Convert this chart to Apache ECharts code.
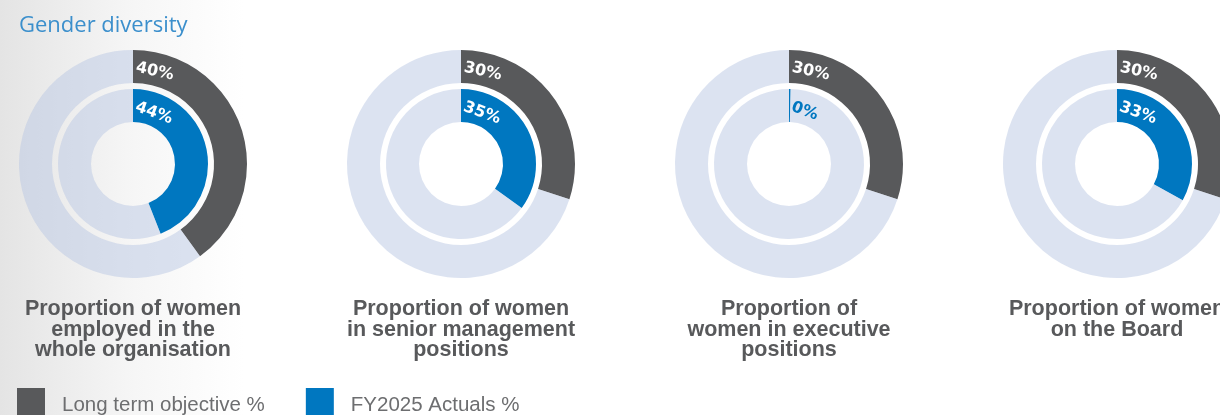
<!DOCTYPE html>
<html>
<head>
<meta charset="utf-8">
<script src="https://cdn.jsdelivr.net/npm/echarts@6/dist/echarts.min.js"></script>
<style>
  html, body { margin: 0; padding: 0; width: 1220px; height: 415px; overflow: hidden; background: #fff; }
  #chart { width: 1220px; height: 415px; }
</style>
</head>
<body>
<div id="chart"></div>
<script>
// ---- data ----
const chartTitle = 'Gender diversity';
const categories = [
  'Proportion of women\nemployed in the\nwhole organisation',
  'Proportion of women\nin senior management\npositions',
  'Proportion of\nwomen in executive\npositions',
  'Proportion of women\non the Board'
];
const seriesNames = ['Long term objective %', 'FY2025 Actuals %'];
const objective = [40, 30, 30, 30];
const actual = [44, 35, 0, 33];

// ---- layout / style ----
const DARK = '#58595b';
const BLUE = '#0077c0';
const LIGHT = 'rgba(185,199,227,0.5)';
const ringColors = [DARK, BLUE];
const centersX = [133, 461, 789, 1117];
const centerY = 164;
const outerR = [81, 114];
const innerR = [42, 75];
const labelFont = { fontFamily: 'DejaVu Sans', fontWeight: 'bold', fontSize: 16 };

function ringSeries(i, ring) {
  const isOuter = ring === 0;
  const values = isOuter ? objective : actual;
  const v = values[i];
  const radius = isOuter ? outerR : innerR;
  const midR = (radius[0] + radius[1]) / 2;
  const rot = isOuter ? -12 : -20;
  const cx = centersX[i];
  return {
    type: 'pie',
    id: 'ring-' + i + '-' + ring,
    center: [cx, centerY],
    radius: radius,
    startAngle: 90,
    clockwise: true,
    minAngle: isOuter ? 0 : 1.2,
    avoidLabelOverlap: false,
    silent: true,
    emphasis: { disabled: true, scale: false },
    labelLine: { show: false },
    itemStyle: { borderWidth: 0 },
    label: { show: false },
    labelLayout: function () {
      return { x: cx + 3, y: centerY - midR + 1, rotate: rot, align: 'left', verticalAlign: 'middle' };
    },
    data: [
      {
        name: seriesNames[ring],
        value: v,
        itemStyle: { color: ringColors[ring] },
        label: Object.assign({
          show: true,
          position: 'inside',
          formatter: v + '%',
          color: v === 0 ? BLUE : '#ffffff'
        }, labelFont)
      },
      {
        name: 'remainder',
        value: 100 - v,
        itemStyle: { color: LIGHT },
        label: { show: false }
      }
    ]
  };
}

const series = [];
for (let i = 0; i < categories.length; i++) {
  series.push(ringSeries(i, 0));
  series.push(ringSeries(i, 1));
}

const titles = [{
  text: chartTitle,
  left: 19,
  top: 15,
  padding: 0,
  textStyle: { fontFamily: 'Open Sans', fontWeight: 'normal', fontSize: 22, color: '#3b8fcc' }
}];
categories.forEach(function (c, i) {
  titles.push({
    text: c,
    left: centersX[i],
    top: 299,
    padding: 0,
    textAlign: 'center',
    textStyle: {
      fontFamily: 'Liberation Sans', fontWeight: 'bold', fontSize: 21.5,
      lineHeight: 20.5, color: DARK
    }
  });
});

const chart = echarts.init(document.getElementById('chart'), null, { renderer: 'canvas' });
chart.setOption({
  animation: false,
  backgroundColor: new echarts.graphic.LinearGradient(0, 0, 1, 0, [
    { offset: 0, color: '#e4e4e4' },
    { offset: 0.06, color: '#eeeeee' },
    { offset: 0.11, color: '#f6f6f6' },
    { offset: 0.2, color: '#ffffff' },
    { offset: 1, color: '#ffffff' }
  ]),
  title: titles,
  tooltip: { show: false },
  legend: {
    data: seriesNames.map(function (n, k) { return { name: n, itemStyle: { color: ringColors[k] } }; }),
    left: 17,
    top: 388,
    padding: 0,
    icon: 'rect',
    itemWidth: 28,
    itemHeight: 28,
    itemGap: 41,
    selectedMode: false,
    formatter: function (name) { return '{t|' + name + '}'; },
    textStyle: {
      fontFamily: 'Liberation Sans', fontSize: 20.5, color: '#6d6e70',
      rich: {
        t: { fontFamily: 'Liberation Sans', fontSize: 20.5, color: '#6d6e70', padding: [7, 0, 0, 12] }
      }
    }
  },
  series: series
});
</script>
</body>
</html>
